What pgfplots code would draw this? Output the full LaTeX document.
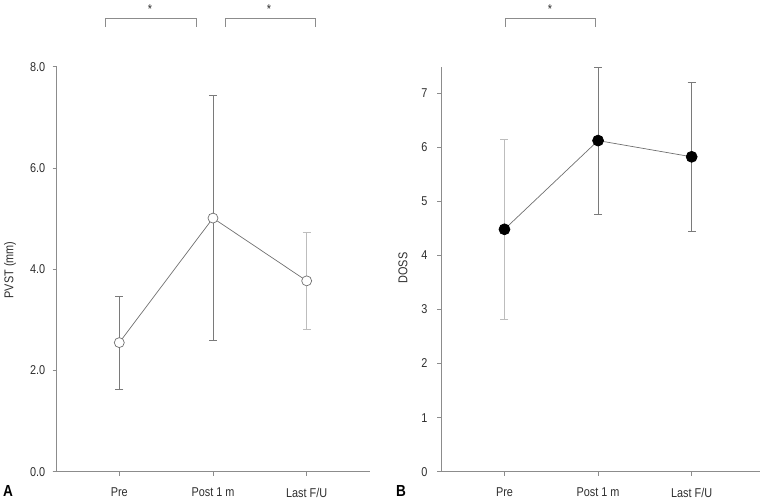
\documentclass[border=0pt]{standalone}
\usepackage{pgfplots}
\pgfplotsset{compat=1.18}
\usepackage{fontspec}
\setmainfont[FakeStretch=0.85]{Liberation Sans}
\definecolor{axgray}{HTML}{8C8C8C}
\definecolor{lngray}{HTML}{707070}
\definecolor{ebgray}{HTML}{7A7A7A}
\definecolor{eblight}{HTML}{BDBDBD}
\definecolor{txt}{HTML}{2E2E2E}
\begin{document}
\begin{tikzpicture}
\useasboundingbox (0pt,0pt) rectangle (763pt,-500pt);
\pgfplotsset{
  mystyle/.style={
    scale only axis, axis lines=left,
    axis line style={-, draw=axgray, line width=0.9pt},
    tick align=outside, major tick length=4pt,
    tick style={draw=axgray, line width=0.8pt},
    xtick={1,2,3}, xticklabels={Pre, Post 1 m, Last F/U},
    tick label style={font=\fontsize{12.8}{14}\selectfont, text=txt},
    xticklabel style={yshift=-8.5pt},
    /pgf/number format/assume math mode=true,
    clip=false,
  },
  ebar/.style={only marks, mark=none, forget plot,
    error bars/.cd, y dir=both, y explicit, error mark=|,
    error bar style={draw=#1, line width=0.8pt},
    error mark options={draw=#1, mark size=4pt, line width=0.8pt}},
}
% Panel A
\begin{axis}[mystyle, at={(56.7pt,-471.7pt)}, anchor=south west,
  width=313.3pt, height=405pt,
  xmin=0.332, xmax=3.676, ymin=0, ymax=8,
  ytick={0,2,4,6,8},
  yticklabel style={xshift=-4pt, /pgf/number format/.cd, fixed, fixed zerofill, precision=1}]
\addplot[ebar=ebgray] coordinates {(1,2.55) +- (0,0.92)};
\addplot[ebar=ebgray] coordinates {(2,5.01) +- (0,2.42)};
\addplot[ebar=eblight] coordinates {(3,3.77) +- (0,0.95)};
\addplot[color=lngray, line width=0.7pt, mark=*, mark size=5pt,
  mark options={fill=white, draw=lngray, line width=0.7pt}]
  coordinates {(1,2.55) (2,5.01) (3,3.77)};
\end{axis}
% Panel B
\begin{axis}[mystyle, at={(441pt,-471.7pt)}, anchor=south west,
  width=319pt, height=404.7pt,
  xmin=0.322, xmax=3.73, ymin=0, ymax=7.48,
  ytick={0,1,2,3,4,5,6,7},
  yticklabel style={xshift=-6pt}]
\addplot[ebar=eblight] coordinates {(1,4.48) +- (0,1.67)};
\addplot[ebar=ebgray] coordinates {(2,6.12) +- (0,1.36)};
\addplot[ebar=ebgray] coordinates {(3,5.82) +- (0,1.38)};
\addplot[color=lngray, line width=0.7pt, mark=*, mark size=5.5pt,
  mark options={fill=black, draw=black}]
  coordinates {(1,4.48) (2,6.12) (3,5.82)};
\end{axis}
% axis stubs
\draw[axgray, line width=0.9pt] (52.7pt,-471.7pt) -- (56.7pt,-471.7pt);
\draw[axgray, line width=0.9pt] (437pt,-471.7pt) -- (441pt,-471.7pt);
% axis titles and panel letters
\node[rotate=90, text=txt, font=\fontsize{12.8}{14}\selectfont] at (10pt,-270pt) {PVST (mm)};
\node[rotate=90, text=txt, font=\fontsize{12.8}{14}\selectfont] at (403pt,-268pt) {DOSS};
\node[font=\bfseries\fontsize{16}{18}\selectfont] at (8pt,-491pt) {A};
\node[font=\bfseries\fontsize{16}{18}\selectfont] at (401pt,-491pt) {B};
% significance brackets
\draw[axgray, line width=0.9pt] (105pt,-27pt) -- (105pt,-18pt) -- (196pt,-18pt) -- (196pt,-27pt);
\draw[axgray, line width=0.9pt] (225pt,-27pt) -- (225pt,-18pt) -- (315pt,-18pt) -- (315pt,-27pt);
\draw[axgray, line width=0.9pt] (505pt,-27pt) -- (505pt,-18pt) -- (595pt,-18pt) -- (595pt,-27pt);
\node[text=txt, font=\fontsize{12.8}{14}\selectfont] at (150pt,-9pt) {*};
\node[text=txt, font=\fontsize{12.8}{14}\selectfont] at (269pt,-9pt) {*};
\node[text=txt, font=\fontsize{12.8}{14}\selectfont] at (550pt,-9pt) {*};
\end{tikzpicture}
\end{document}
